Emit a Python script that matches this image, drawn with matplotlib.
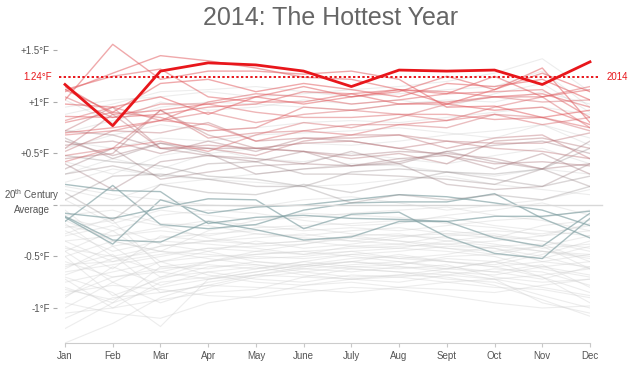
import numpy as np
import matplotlib
matplotlib.use("Agg")
import matplotlib.pyplot as plt
from matplotlib.colors import LinearSegmentedColormap
from matplotlib.transforms import blended_transform_factory

plt.rcParams['font.family'] = ['Liberation Sans', 'DejaVu Sans']
plt.rcParams['mathtext.fontset'] = 'custom'
plt.rcParams['mathtext.rm'] = 'Liberation Sans'

# month labels
months = ["Jan", "Feb", "Mar", "Apr", "May", "June", "July", "Aug", "Sept", "Oct", "Nov", "Dec"]

# 2014 anomalies (deg F vs 20th century average)
y2014 = [1.17, 0.77, 1.30, 1.38, 1.36, 1.30, 1.15, 1.31, 1.30, 1.31, 1.17, 1.39]
y2014_mean = 1.24

# warm years (red shades)
warm = [
    [1.10, 1.28, 1.45, 1.40, 1.33, 1.24, 1.22, 1.12, 0.98, 1.12, 1.33, 0.80],
    [1.02, 1.56, 1.22, 1.30, 1.30, 1.27, 1.30, 1.22, 0.95, 0.96, 0.85, 0.92],
    [1.12, 0.90, 1.18, 1.22, 1.10, 1.18, 1.12, 1.05, 1.18, 1.15, 1.22, 1.02],
    [0.98, 0.95, 1.05, 0.88, 1.05, 1.15, 1.05, 1.10, 1.25, 1.12, 1.28, 1.10],
    [1.12, 1.25, 1.32, 1.05, 1.00, 1.00, 1.08, 0.98, 0.98, 0.92, 0.95, 0.78],
    [1.15, 0.88, 0.92, 0.98, 1.05, 0.98, 1.05, 1.12, 1.08, 1.25, 1.05, 1.12],
    [0.86, 0.85, 0.88, 0.95, 0.98, 1.10, 1.08, 1.12, 1.10, 1.05, 1.08, 0.95],
    [0.80, 0.90, 0.85, 0.72, 0.75, 0.95, 0.92, 0.98, 1.00, 1.05, 1.05, 1.15],
    [1.05, 0.85, 0.98, 0.98, 0.90, 0.85, 0.85, 0.88, 0.88, 0.83, 0.85, 0.75],
    [0.70, 0.75, 0.82, 1.00, 1.08, 1.05, 0.98, 1.02, 1.08, 1.10, 1.12, 0.85],
    [0.68, 0.72, 0.82, 0.90, 0.80, 0.88, 0.92, 0.88, 0.82, 0.88, 0.78, 0.85],
    [0.82, 0.95, 0.82, 0.78, 0.62, 0.72, 0.68, 0.78, 0.82, 0.95, 1.05, 0.75],
    [0.48, 0.55, 0.92, 0.65, 0.70, 0.72, 0.78, 0.78, 0.75, 0.88, 0.85, 0.72],
    [0.42, 0.55, 0.62, 0.52, 0.68, 0.80, 0.75, 0.85, 0.98, 1.05, 1.00, 1.02],
    [0.52, 0.72, 0.70, 0.80, 0.62, 0.65, 0.65, 0.68, 0.62, 0.55, 0.52, 0.45],
    [0.55, 0.88, 0.55, 0.58, 0.55, 0.60, 0.62, 0.55, 0.62, 0.60, 0.60, 0.70],
    [0.72, 0.95, 0.55, 0.55, 0.48, 0.62, 0.68, 0.68, 0.55, 0.65, 0.68, 0.45],
    [0.45, 0.50, 0.92, 0.68, 0.55, 0.52, 0.45, 0.50, 0.40, 0.62, 0.65, 0.55],
    [0.58, 0.62, 0.50, 0.62, 0.52, 0.65, 0.62, 0.55, 0.48, 0.40, 0.42, 0.38],
    [0.62, 0.48, 0.60, 0.55, 0.55, 0.52, 0.48, 0.52, 0.50, 0.45, 0.35, 0.40],
    [0.35, 0.55, 0.25, 0.32, 0.38, 0.40, 0.52, 0.40, 0.52, 0.42, 0.35, 0.62],
    [0.72, 0.68, 0.55, 0.48, 0.45, 0.40, 0.38, 0.45, 0.48, 0.35, 0.50, 0.30],
    [0.40, 0.15, 0.42, 0.48, 0.42, 0.52, 0.38, 0.42, 0.52, 0.58, 0.62, 0.50],
    [0.65, 0.45, 0.60, 0.50, 0.30, 0.35, 0.38, 0.40, 0.20, 0.15, 0.18, 0.40],
    [0.30, 0.38, 0.28, 0.40, 0.42, 0.30, 0.30, 0.28, 0.25, 0.20, 0.35, 0.18],
    [0.48, 0.42, 0.38, 0.28, 0.25, 0.18, 0.02, 0.10, 0.05, 0.10, 0.05, 0.18],
    [0.05, 0.28, 0.30, 0.25, 0.18, 0.18, 0.32, 0.35, 0.32, 0.25, 0.18, 0.28],
    [0.12, -0.15, 0.20, 0.12, 0.10, 0.20, 0.12, 0.22, 0.32, 0.30, 0.35, 0.55],
]

# mid-century years (grey-teal)
mid = [
    [-0.08, -0.13, -0.03, 0.06, 0.05, -0.23, -0.09, -0.07, -0.31, -0.47, -0.52, -0.13],
    [-0.11, -0.34, -0.36, -0.16, -0.24, -0.34, -0.31, -0.16, -0.16, -0.32, -0.40, -0.08],
    [-0.16, 0.19, -0.19, -0.23, -0.19, -0.05, 0.02, 0.03, 0.03, 0.11, -0.13, -0.32],
    [0.20, 0.14, 0.13, -0.18, -0.12, -0.10, -0.13, -0.14, -0.16, -0.11, -0.11, -0.06],
    [-0.12, -0.38, 0.05, -0.08, -0.02, 0.00, 0.05, 0.10, 0.08, 0.02, -0.05, -0.20],
]

# everything else (pale grey)
pale = [
    [-0.35, -0.55, -0.48, -0.42, -0.40, -0.38, -0.30, -0.28, -0.35, -0.40, -0.45, -0.50],
    [-0.62, -0.40, -0.70, -0.55, -0.50, -0.52, -0.48, -0.45, -0.40, -0.42, -0.55, -0.60],
    [-0.80, -0.95, -0.60, -0.62, -0.55, -0.58, -0.52, -0.50, -0.55, -0.60, -0.70, -0.85],
    [-1.00, -0.75, -0.95, -0.80, -0.70, -0.65, -0.60, -0.62, -0.58, -0.70, -0.75, -0.72],
    [-1.34, -1.15, -0.90, -0.75, -0.68, -0.62, -0.58, -0.55, -0.62, -0.65, -0.58, -0.80],
    [-0.20, -0.30, -0.25, -0.30, -0.22, -0.20, -0.18, -0.15, -0.12, -0.20, -0.25, -0.30],
    [-0.45, -0.25, -0.55, -0.50, -0.48, -0.45, -0.42, -0.40, -0.38, -0.35, -0.30, -0.25],
    [-0.70, -0.85, -1.18, -0.72, -0.68, -0.60, -0.55, -0.58, -0.52, -0.55, -0.70, -0.95],
    [-0.90, -0.60, -0.78, -0.65, -0.72, -0.75, -0.68, -0.70, -0.75, -0.80, -0.82, -0.90],
    [-0.55, -0.70, -0.62, -0.58, -0.62, -0.55, -0.60, -0.58, -0.50, -0.48, -0.52, -0.40],
    [-0.10, -0.05, -0.18, -0.20, -0.28, -0.30, -0.25, -0.22, -0.28, -0.32, -0.20, -0.15],
    [0.05, -0.18, -0.05, -0.10, -0.15, -0.12, -0.08, -0.05, -0.02, -0.10, -0.15, -0.25],
    [-0.25, -0.45, -0.35, -0.38, -0.42, -0.48, -0.45, -0.52, -0.48, -0.40, -0.38, -0.55],
    [-0.68, -0.52, -0.45, -0.48, -0.52, -0.50, -0.45, -0.42, -0.45, -0.50, -0.62, -0.70],
    [-1.05, -1.00, -0.92, -0.85, -0.82, -0.70, -0.72, -0.68, -0.70, -0.78, -0.92, -1.08],
    [-0.85, -0.78, -0.82, -0.88, -0.90, -0.85, -0.80, -0.82, -0.88, -0.95, -1.00, -0.98],
    [-0.40, -0.62, -0.30, -0.35, -0.32, -0.28, -0.35, -0.38, -0.30, -0.28, -0.35, -0.45],
    [-0.15, -0.35, -0.45, -0.25, -0.15, -0.08, -0.10, -0.12, -0.18, -0.22, -0.30, -0.18],
    [-0.50, -0.88, -0.72, -0.60, -0.58, -0.62, -0.65, -0.60, -0.65, -0.68, -0.60, -0.55],
    [-0.75, -0.65, -0.55, -0.68, -0.75, -0.78, -0.72, -0.75, -0.68, -0.62, -0.65, -0.78],
    [-0.30, -0.20, -0.38, -0.45, -0.35, -0.42, -0.38, -0.32, -0.25, -0.30, -0.42, -0.38],
    [-0.95, -1.05, -1.10, -0.95, -0.88, -0.78, -0.75, -0.80, -0.82, -0.85, -0.78, -0.72],
    [-0.60, -0.48, -0.85, -0.78, -0.68, -0.70, -0.62, -0.65, -0.72, -0.75, -0.88, -1.00],
    [-0.12, -0.25, -0.10, -0.05, -0.08, -0.15, -0.20, -0.18, -0.10, -0.05, 0.02, -0.10],
    [0.18, 0.10, 0.05, 0.00, -0.02, 0.05, 0.08, 0.02, -0.05, 0.00, 0.05, 0.15],
    [-0.45, -0.75, -0.55, -0.45, -0.55, -0.60, -0.55, -0.48, -0.55, -0.58, -0.48, -0.35],
    [-0.22, -0.15, -0.60, -0.55, -0.45, -0.38, -0.32, -0.35, -0.42, -0.45, -0.40, -0.62],
    [-0.88, -0.70, -0.65, -0.55, -0.48, -0.45, -0.50, -0.55, -0.60, -0.65, -0.72, -0.60],
    [-0.58, -0.55, -0.40, -0.35, -0.38, -0.35, -0.30, -0.35, -0.38, -0.42, -0.50, -0.62],
    [-1.10, -0.90, -0.85, -0.78, -0.80, -0.82, -0.85, -0.80, -0.75, -0.72, -0.80, -0.88],
    [-0.35, -0.30, -0.22, -0.15, -0.20, -0.25, -0.22, -0.25, -0.20, -0.15, -0.12, -0.05],
    [-0.05, -0.40, -0.32, -0.28, -0.25, -0.22, -0.28, -0.30, -0.32, -0.38, -0.45, -0.48],
    [-0.72, -1.00, -0.75, -0.70, -0.62, -0.55, -0.48, -0.52, -0.55, -0.60, -0.55, -0.48],
    [-0.42, -0.50, -0.65, -0.72, -0.65, -0.58, -0.55, -0.60, -0.62, -0.55, -0.45, -0.52],
    [-0.65, -0.58, -0.50, -0.42, -0.45, -0.48, -0.40, -0.38, -0.42, -0.48, -0.40, -0.30],
    [-0.28, -0.12, -0.20, -0.32, -0.38, -0.35, -0.40, -0.42, -0.35, -0.30, -0.35, -0.42],
    [-0.82, -0.92, -0.70, -0.65, -0.60, -0.68, -0.72, -0.70, -0.65, -0.72, -0.95, -1.05],
    [-0.50, -0.35, -0.45, -0.52, -0.58, -0.65, -0.70, -0.68, -0.62, -0.55, -0.60, -0.68],
    [-1.20, -0.95, -0.80, -0.72, -0.65, -0.58, -0.62, -0.65, -0.68, -0.72, -0.68, -0.62],
    [-0.18, -0.50, -0.40, -0.35, -0.28, -0.32, -0.35, -0.30, -0.28, -0.25, -0.28, -0.20],
    [0.95, 1.02, 1.05, 1.10, 1.05, 1.08, 1.12, 1.15, 1.20, 1.28, 1.42, 1.10],
    [0.88, 0.98, 1.10, 1.12, 1.15, 1.10, 1.05, 1.08, 1.12, 1.15, 1.30, 0.95],
    [0.70, 0.82, 0.95, 1.00, 0.98, 0.95, 0.92, 0.98, 1.02, 1.00, 1.10, 0.98],
    [1.02, 0.80, 1.00, 0.92, 0.95, 1.02, 0.98, 1.02, 0.95, 1.08, 1.18, 0.90],
    [0.55, 0.68, 0.78, 0.72, 0.75, 0.80, 0.82, 0.80, 0.85, 0.90, 0.95, 0.88],
    [0.30, 0.45, 0.35, 0.50, 0.55, 0.60, 0.58, 0.62, 0.68, 0.72, 0.78, 0.65],
    [0.42, 0.30, 0.48, 0.55, 0.45, 0.42, 0.50, 0.45, 0.40, 0.48, 0.55, 0.40],
    [0.22, 0.35, 0.28, 0.25, 0.30, 0.35, 0.40, 0.38, 0.32, 0.28, 0.35, 0.30],
    [0.15, 0.05, 0.20, 0.25, 0.22, 0.18, 0.20, 0.25, 0.28, 0.20, 0.15, 0.10],
    [0.62, 0.55, 0.65, 0.62, 0.68, 0.70, 0.72, 0.75, 0.70, 0.65, 0.78, 0.58],
]

RED = "#e8161b"
x = np.arange(len(months))

fig = plt.figure(figsize=(6.4, 3.7), dpi=100)
ax = fig.add_axes([65/640, 27/370, 525/640, 302.8/370])

for s in pale:
    ax.plot(x, s, color="#d2d2d2", lw=0.8, alpha=0.4, zorder=1)

for s in mid:
    ax.plot(x, s, color="#7f9fa2", lw=1.0, alpha=0.65, zorder=2)

# warm lines coloured by their yearly mean, hottest on top
cmap = LinearSegmentedColormap.from_list("warm", ["#8e8e8e", "#a27b80", "#d96a6e", "#e25a5e"])
warm_sorted = sorted(warm, key=np.mean)
for s in warm_sorted:
    t = np.clip((np.mean(s) - 0.15) / 0.95, 0, 1)
    ax.plot(x, s, color=cmap(t), lw=1.0, alpha=0.32 + 0.2 * t, zorder=3)

# 20th century average line
ax.plot([-0.1, 11.25], [0, 0], color="#d8d8d8", lw=1.0, zorder=2.5, clip_on=False)

# 2014
ax.plot([-0.12, 11.2], [y2014_mean, y2014_mean], color=RED, lw=1.4, ls=(0, (1.2, 1.2)),
        zorder=5, clip_on=False)
ax.plot(x, y2014, color=RED, lw=2.0, zorder=6, clip_on=False)
ax.text(11.35, y2014_mean, "2014", color=RED, fontsize=7, va="center", ha="left")
ax.text(-0.27, y2014_mean, "1.24°F", color=RED, fontsize=7, va="center", ha="right")

ax.set_xlim(0, 11)
ax.set_ylim(-1.34, 1.6)

# spine position first, it resets the ticks
ax.spines["left"].set_position(("outward", 6))

ax.set_xticks(x)
ax.set_xticklabels(months, fontsize=7, color="#555555")
ax.tick_params(axis="x", length=3, color="#c8c8c8", pad=3)

yt = [-1, -0.5, 0, 0.5, 1, 1.5]
ytl = ["-1°F", "-0.5°F", "", "+0.5°F", "+1°F", "+1.5°F"]
ax.set_yticks(yt)
ax.set_yticklabels(ytl, fontsize=7, color="#555555")
ax.tick_params(axis="y", length=3, color="#aaaaaa", pad=2)

# label for the zero line, two centred rows
tr = blended_transform_factory(fig.transFigure, ax.transData)
ax.text(32/640, 0.02, "20$^{\\rm th}$ Century", transform=tr, fontsize=7, color="#555555",
        ha="center", va="bottom")
ax.text(32/640, 0.0, "Average", transform=tr, fontsize=7, color="#555555",
        ha="center", va="top")

for side in ["left", "top", "right"]:
    ax.spines[side].set_visible(False)
ax.spines["bottom"].set_color("#cccccc")
ax.patch.set_alpha(0)

fig.text(331/640, 1 - 18/370, "2014: The Hottest Year", fontsize=18, color="#666666",
         ha="center", va="center")

fig.savefig("out.png", dpi=100)
